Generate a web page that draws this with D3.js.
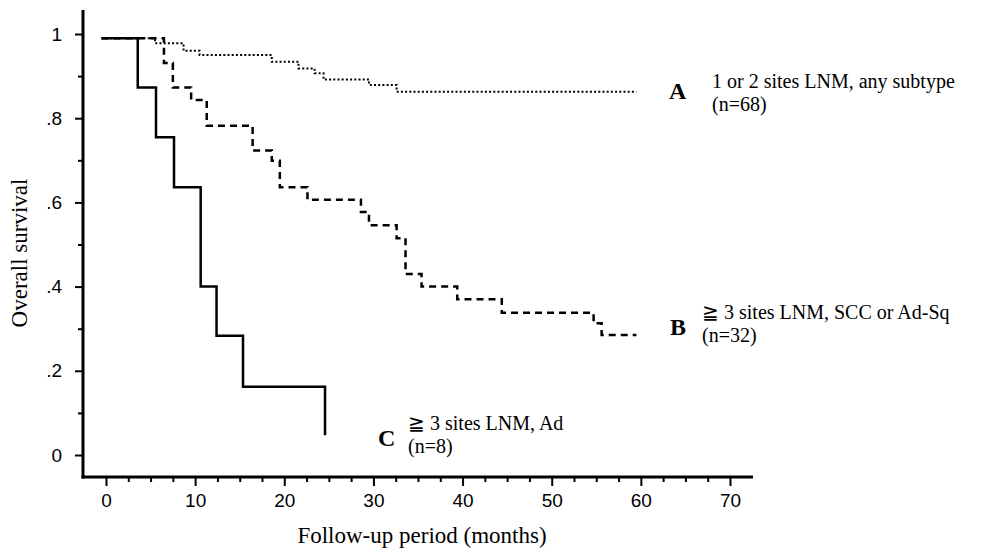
<!DOCTYPE html>
<html>
<head>
<meta charset="utf-8">
<script src="https://cdn.jsdelivr.net/npm/d3@7"></script>
<style>
  html, body { margin: 0; padding: 0; background: #fff; }
  svg { display: block; }
  .tick text { font-family: "Liberation Sans", Arial, sans-serif; font-size: 19px; fill: #000; }
  .tick line { stroke: #000; stroke-width: 2px; }
  .serif { font-family: "Liberation Serif", "Times New Roman", serif; fill: #000; }
</style>
</head>
<body>
<div id="chart"></div>
<script>
// step start times (months) and survival level for each group
const timesA = [-0.5, 5.5, 8.7, 10.5, 18.6, 21.6, 23.4, 24.4, 29.5, 32.6, 59.5];
const survA  = [0.99, 0.978, 0.96, 0.95, 0.934, 0.918, 0.907, 0.892, 0.879, 0.863, 0.863];

const timesB = [-0.5, 6.5, 7.5, 9.55, 11.3, 16.45, 18.6, 19.5, 22.6, 28.6, 29.5, 32.6, 33.6, 35.4, 39.4, 44.4, 54.7, 55.6, 59.5];
const survB  = [0.99, 0.931, 0.873, 0.843, 0.782, 0.723, 0.699, 0.636, 0.606, 0.577, 0.546, 0.515, 0.430, 0.400, 0.370, 0.338, 0.313, 0.285, 0.285];

const timesC = [-0.5, 3.56, 5.61, 7.63, 10.62, 12.4, 15.37, 24.57];
const survC  = [0.99, 0.873, 0.755, 0.636, 0.40, 0.283, 0.162, 0.047];

const xTickValues = [0, 10, 20, 30, 40, 50, 60, 70];
const yTickValues = [0, 0.2, 0.4, 0.6, 0.8, 1];

const groupLetters = ["A", "B", "C"];
const groupLines = [
    ["1 or 2 sites LNM, any subtype", "(n=68)"],
    ["\u2267 3 sites LNM, SCC or Ad-Sq", "(n=32)"],
    ["\u2267 3 sites LNM, Ad", "(n=8)"]
];

const width = 982, height = 549;

const svg = d3.select("#chart").append("svg")
    .attr("width", width)
    .attr("height", height);

const x = d3.scaleLinear().domain([0, 70]).range([106, 730]);
const y = d3.scaleLinear().domain([0, 1]).range([455, 34]);

const axisLeftX = 83, axisBottomY = 477;

// axis lines (longer than the tick range, like the original)
svg.append("line")
    .attr("x1", axisLeftX).attr("x2", axisLeftX)
    .attr("y1", 10).attr("y2", axisBottomY + 1.5)
    .attr("stroke", "#000").attr("stroke-width", 3);
svg.append("line")
    .attr("x1", axisLeftX - 1.5).attr("x2", 753)
    .attr("y1", axisBottomY).attr("y2", axisBottomY)
    .attr("stroke", "#000").attr("stroke-width", 3);

// x axis
const xAxis = svg.append("g")
    .attr("transform", `translate(0,${axisBottomY})`)
    .call(d3.axisBottom(x).tickValues(xTickValues).tickSize(9).tickPadding(8));
xAxis.select(".domain").remove();

const xMinor = svg.append("g")
    .attr("transform", `translate(0,${axisBottomY})`)
    .call(d3.axisBottom(x).tickValues(d3.range(2.5, 70, 2.5).filter(d => d % 10 !== 0)).tickSize(5).tickFormat(""));
xMinor.select(".domain").remove();

// y axis
const yFormat = d => d === 0 ? "0" : d === 1 ? "1" : d3.format(".1f")(d).replace(/^0/, "");
const yAxis = svg.append("g")
    .attr("transform", `translate(${axisLeftX},0)`)
    .call(d3.axisLeft(y).tickValues(yTickValues).tickSize(8).tickPadding(13).tickFormat(yFormat));
yAxis.select(".domain").remove();

const yMinor = svg.append("g")
    .attr("transform", `translate(${axisLeftX},0)`)
    .call(d3.axisLeft(y).tickValues([0.1, 0.3, 0.5, 0.7, 0.9]).tickSize(5).tickFormat(""));
yMinor.select(".domain").remove();

// axis titles
svg.append("text")
    .attr("class", "serif")
    .attr("x", 422).attr("y", 543)
    .attr("text-anchor", "middle")
    .style("font-size", "23px")
    .text("Follow-up period (months)");

svg.append("text")
    .attr("class", "serif")
    .attr("transform", "translate(27,253) rotate(-90)")
    .attr("text-anchor", "middle")
    .style("font-size", "23px")
    .text("Overall survival");

// survival curves
const stepLine = d3.line()
    .x(d => x(d[0]))
    .y(d => y(d[1]))
    .curve(d3.curveStepAfter);

const curves = [
    { t: timesA, s: survA, dash: "2,2.2", w: 2 },
    { t: timesB, s: survB, dash: "7,5", w: 2.5 },
    { t: timesC, s: survC, dash: null, w: 2.5 }
];

curves.forEach(c => {
    svg.append("path")
        .datum(d3.zip(c.t, c.s))
        .attr("d", stepLine)
        .attr("fill", "none")
        .attr("stroke", "#000")
        .attr("stroke-width", c.w)
        .attr("stroke-dasharray", c.dash);
});

// group labels: bold letter plus a two-line description
const labelPos = [
    { lx: 669, ly: 99, tx: 712, ty: 88 },
    { lx: 670, ly: 335, tx: 702, ty: 319 },
    { lx: 378, ly: 446, tx: 408, ty: 430 }
];

groupLetters.forEach((letter, i) => {
    const p = labelPos[i];
    svg.append("text")
        .attr("class", "serif")
        .attr("x", p.lx).attr("y", p.ly)
        .style("font-size", "24px")
        .style("font-weight", "bold")
        .text(letter);

    groupLines[i].forEach((line, j) => {
        svg.append("text")
            .attr("class", "serif")
            .attr("x", p.tx).attr("y", p.ty + j * 23)
            .style("font-size", "20px")
            .text(line);
    });
});
</script>
</body>
</html>
